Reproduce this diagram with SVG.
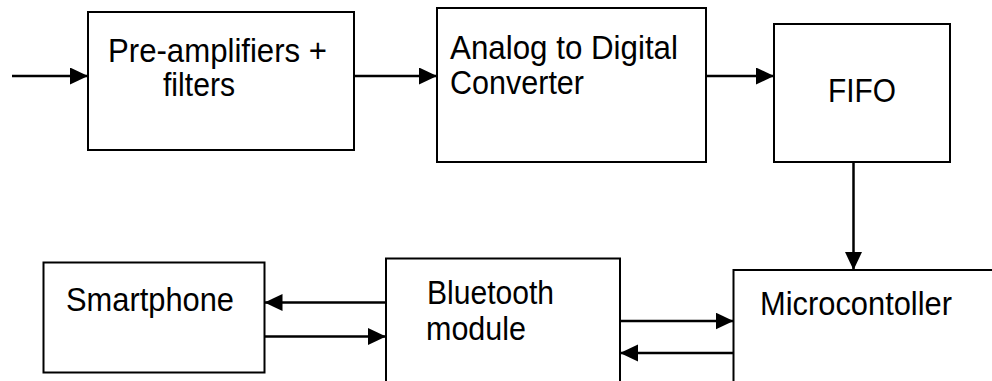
<svg xmlns="http://www.w3.org/2000/svg" width="992" height="381" viewBox="0 0 992 381">
<style>
.box{fill:#fff;stroke:#000;stroke-width:2}
.lbl{font-family:"Liberation Sans",Arial,sans-serif;font-size:33px;fill:#000}
.conn{stroke:#000;stroke-width:2.5;fill:none;marker-end:url(#ah)}
</style>
<defs>
<marker id="ah" markerUnits="userSpaceOnUse" markerWidth="19" markerHeight="18" refX="18" refY="8.5" orient="auto">
<path d="M0,0 L18,8.5 L0,17 z" fill="#000"/>
</marker>
</defs>
<rect width="992" height="381" fill="#fff"/>
<g id="preamp">
<rect class="box" x="88" y="12" width="266" height="138"/>
<text class="lbl" x="108" y="62" textLength="219" lengthAdjust="spacingAndGlyphs">Pre-amplifiers +</text>
<text class="lbl" x="163" y="96" textLength="72" lengthAdjust="spacingAndGlyphs">filters</text>
</g>
<g id="adc">
<rect class="box" x="437" y="8" width="269" height="154"/>
<text class="lbl" x="450" y="59" textLength="228" lengthAdjust="spacingAndGlyphs">Analog to Digital</text>
<text class="lbl" x="450" y="94" textLength="134" lengthAdjust="spacingAndGlyphs">Converter</text>
</g>
<g id="fifo">
<rect class="box" x="774" y="24" width="176" height="138"/>
<text class="lbl" x="828" y="102" textLength="68" lengthAdjust="spacingAndGlyphs">FIFO</text>
</g>
<g id="smartphone">
<rect class="box" x="43.5" y="262.5" width="221" height="110"/>
<text class="lbl" x="66" y="311" textLength="168" lengthAdjust="spacingAndGlyphs">Smartphone</text>
</g>
<g id="bluetooth">
<rect class="box" x="386" y="258.5" width="234" height="160"/>
<text class="lbl" x="427" y="304" textLength="127" lengthAdjust="spacingAndGlyphs">Bluetooth</text>
<text class="lbl" x="426" y="340" textLength="100" lengthAdjust="spacingAndGlyphs">module</text>
</g>
<g id="micro">
<rect class="box" x="733.5" y="270" width="300" height="160"/>
<text class="lbl" x="760" y="315" textLength="192" lengthAdjust="spacingAndGlyphs">Microcontoller</text>
</g>
<g id="connectors">
<line class="conn" x1="12" y1="76" x2="88" y2="76"/>
<line class="conn" x1="354" y1="76" x2="437" y2="76"/>
<line class="conn" x1="706" y1="76" x2="774" y2="76"/>
<line class="conn" x1="853.5" y1="162" x2="853.5" y2="270"/>
<line class="conn" x1="386" y1="302.5" x2="264.5" y2="302.5"/>
<line class="conn" x1="264.5" y1="336.5" x2="386" y2="336.5"/>
<line class="conn" x1="620" y1="321" x2="733.5" y2="321"/>
<line class="conn" x1="733.5" y1="353" x2="620" y2="353"/>
</g>
</svg>
